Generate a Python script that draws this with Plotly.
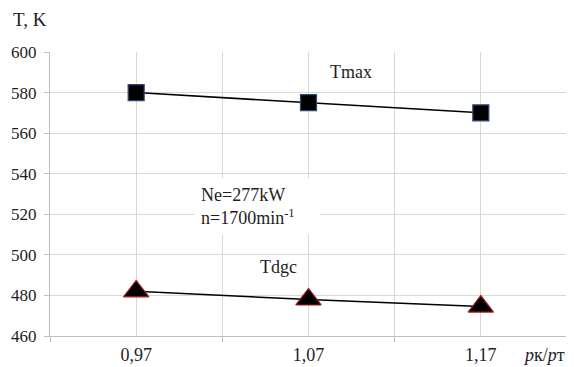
import plotly.graph_objects as go

categories = ["0,97", "1,07", "1,17"]
t_max = [580, 575, 570]
t_dgc = [482, 478, 474.5]
y_ticks = [460, 480, 500, 520, 540, 560, 580, 600]

FONT = "Liberation Serif, Times New Roman, serif"
TXT = "#1e1e1e"
GRID = "#d9d9d9"
AXIS = "#bfbfbf"
xs = list(range(len(categories)))
boundaries = [i - 0.5 for i in range(len(categories) + 1)]

fig = go.Figure()
fig.add_trace(go.Scatter(
    x=xs, y=t_max, mode="lines+markers",
    line=dict(color="black", width=1.5),
    marker=dict(symbol="square", size=16, color="black",
                line=dict(color="#2e4a7a", width=1.2)),
    showlegend=False))
fig.add_trace(go.Scatter(
    x=xs, y=t_dgc, mode="lines+markers",
    line=dict(color="black", width=1.5),
    marker=dict(symbol="triangle-up", size=22, color="black",
                line=dict(color="#a02020", width=1.2)),
    showlegend=False))

fig.update_layout(
    width=566, height=359, autosize=False,
    margin=dict(l=42, r=7, t=44, b=31),
    paper_bgcolor="white", plot_bgcolor="white",
    font=dict(family=FONT, size=18, color=TXT),
    xaxis=dict(range=[-0.5, len(categories) - 0.5], tickvals=xs, ticktext=categories,
               automargin=False,
               showgrid=True, gridcolor=GRID, gridwidth=1,
               minor=dict(tickvals=boundaries, ticks="outside", ticklen=5,
                          tickcolor=AXIS, showgrid=True, gridcolor=GRID, gridwidth=1),
               showline=True, linecolor=AXIS, linewidth=1,
               zeroline=False, ticks="", ticklabelstandoff=2,
               tickfont=dict(family=FONT, size=18, color=TXT)),
    yaxis=dict(range=[460, 600], tickvals=y_ticks, automargin=False,
               showgrid=True, gridcolor=GRID, gridwidth=1,
               showline=True, linecolor=AXIS, linewidth=1,
               zeroline=False, ticks="outside", ticklen=5, tickcolor=AXIS,
               ticklabelstandoff=4,
               tickfont=dict(family=FONT, size=17, color=TXT)),
    annotations=[
        dict(text="T, K", xref="paper", yref="paper", x=-0.075, y=1.113,
             xanchor="left", yanchor="middle", showarrow=False,
             font=dict(family=FONT, size=19, color=TXT)),
        dict(text="<i>p</i>к/<i>p</i>т", xref="paper", yref="paper", x=1.0, y=-0.067,
             xanchor="right", yanchor="middle", showarrow=False,
             font=dict(family=FONT, size=18, color=TXT)),
        dict(text="Tmax", x=1.247, y=590, xref="x", yref="y", showarrow=False,
             font=dict(family=FONT, size=18, color=TXT)),
        dict(text="Ne=277kW<br>n=1700min<sup>-1</sup>", x=0.70, y=524, xref="x", yref="y",
             showarrow=False, bgcolor="white", borderpad=6, width=112, align="left",
             font=dict(family=FONT, size=18, color=TXT)),
        dict(text="Tdgc", x=0.823, y=494, xref="x", yref="y", showarrow=False,
             font=dict(family=FONT, size=18, color=TXT)),
    ],
)

fig.write_html("out.html")
